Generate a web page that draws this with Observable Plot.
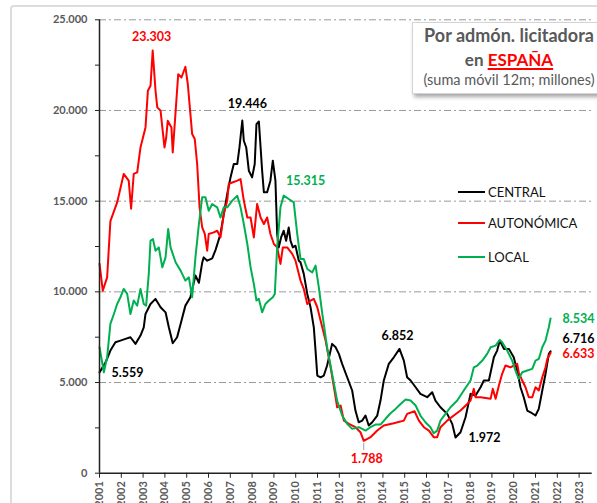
<!DOCTYPE html>
<html><head><meta charset="utf-8">
<script src="https://cdn.jsdelivr.net/npm/d3@7"></script>
<script src="https://cdn.jsdelivr.net/npm/@observablehq/plot@0.6"></script>
<style>
body{margin:0;background:#fff;font-family:Lato,"Open Sans",sans-serif;}
#wrap{position:relative;width:597px;height:503px;overflow:hidden;background:#fff;}
#wrap svg{position:absolute;left:0;top:0;}
#frame{position:absolute;left:10px;top:5px;width:700px;height:700px;border:2px solid #dcdcdc;border-radius:4px;pointer-events:none;}
#tbox{position:absolute;left:412px;top:22px;width:230px;height:70px;background:#fff;border:1px solid #d4d4d4;box-shadow:2px 3px 4px rgba(0,0,0,0.35);}
.tl{position:absolute;left:412px;width:194px;text-align:center;color:#595959;white-space:nowrap;}
.t1{font-size:18px;line-height:21.6px;font-weight:bold;}
.t2{font-size:17px;line-height:20.4px;font-weight:bold;}
.t3{font-size:14.5px;line-height:17.4px;}
.esp{color:#ff0000;text-decoration:underline;text-decoration-thickness:2px;text-underline-offset:2px;}
.lg{position:absolute;left:458px;height:20px;display:flex;align-items:center;font-size:13px;color:#111;}
.lg span.sw{display:inline-block;width:27px;height:2px;margin-right:3px;}
</style></head><body><div id="wrap"></div><script>
// ---- data (millones, suma móvil 12m) ----
const seriesNames = ["CENTRAL", "AUTONÓMICA", "LOCAL"];
const central = [[2001.00,5559],[2001.28,6115],[2001.50,6760],[2001.73,7220],[2001.96,7310],[2002.19,7405],[2002.42,7495],[2002.65,7130],[2002.88,7590],[2003.03,8045],[2003.11,8780],[2003.34,9330],[2003.57,9610],[2003.80,9150],[2004.03,8870],[2004.18,8045],[2004.36,7165],[2004.56,7495],[2004.72,8230],[2004.94,9240],[2005.17,9700],[2005.40,10900],[2005.56,10500],[2005.71,11600],[2005.78,11900],[2005.94,11720],[2006.17,11850],[2006.32,12300],[2006.55,13190],[2006.70,14290],[2006.86,15395],[2007.01,16310],[2007.16,17050],[2007.32,17050],[2007.42,17960],[2007.55,19446],[2007.62,18330],[2007.73,17960],[2007.85,16680],[2008.00,16310],[2008.12,17050],[2008.20,19250],[2008.31,19395],[2008.39,17960],[2008.46,16680],[2008.54,15490],[2008.69,15490],[2008.84,16130],[2008.95,17230],[2009.07,16130],[2009.15,13190],[2009.22,12450],[2009.33,13000],[2009.45,13370],[2009.56,12820],[2009.68,13550],[2009.76,12820],[2009.87,12450],[2009.99,12545],[2010.14,11720],[2010.22,11630],[2010.37,10990],[2010.53,9885],[2010.68,9150],[2010.83,8045],[2010.91,6760],[2010.99,5385],[2011.14,5290],[2011.29,5385],[2011.44,5935],[2011.67,7130],[2011.83,6945],[2011.98,6580],[2012.13,6030],[2012.36,5290],[2012.59,4560],[2012.74,3455],[2012.89,2810],[2013.05,2900],[2013.20,3180],[2013.35,2630],[2013.51,2810],[2013.74,3180],[2013.89,4005],[2014.04,5110],[2014.27,6030],[2014.50,6390],[2014.76,6852],[2014.96,6210],[2015.11,5290],[2015.27,5110],[2015.50,4740],[2015.72,4375],[2016.03,4190],[2016.26,4465],[2016.41,4005],[2016.64,3637],[2016.95,3270],[2017.18,2720],[2017.33,1972],[2017.56,2260],[2017.79,3085],[2018.02,4375],[2018.25,4280],[2018.48,4740],[2018.63,5110],[2018.86,5110],[2019.09,6390],[2019.24,6760],[2019.36,7310],[2019.55,6855],[2019.78,6855],[2020.00,6390],[2020.16,5660],[2020.31,4740],[2020.46,4190],[2020.62,3455],[2020.77,3360],[2021.00,3180],[2021.15,3545],[2021.31,4560],[2021.46,5480],[2021.61,6580],[2021.69,6716]];
const autonomica = [[2001.00,11550],[2001.15,10066],[2001.35,10800],[2001.50,13900],[2001.81,14930],[2002.11,16500],[2002.34,16130],[2002.45,14580],[2002.57,16500],[2002.73,16590],[2002.88,17960],[2003.11,19065],[2003.22,21087],[2003.34,21360],[2003.44,23303],[2003.57,21087],[2003.65,20170],[2003.80,19990],[2003.98,17960],[2004.06,18510],[2004.13,19430],[2004.30,19060],[2004.36,17690],[2004.61,22000],[2004.76,21820],[2004.94,22410],[2005.05,21460],[2005.25,18700],[2005.37,18425],[2005.48,17050],[2005.59,14660],[2005.71,13550],[2005.83,13190],[2005.94,12270],[2006.01,13190],[2006.24,13280],[2006.40,13370],[2006.55,13000],[2006.70,14290],[2006.86,15030],[2006.93,15950],[2007.09,16030],[2007.32,16130],[2007.47,16220],[2007.62,15030],[2007.78,14100],[2007.93,14100],[2008.08,13000],[2008.23,14840],[2008.39,14100],[2008.54,13740],[2008.69,14100],[2008.84,13190],[2009.00,12640],[2009.15,12450],[2009.30,11540],[2009.41,12450],[2009.61,12450],[2009.84,12090],[2009.99,11720],[2010.22,10620],[2010.37,10160],[2010.53,9330],[2010.68,9520],[2010.83,9610],[2010.99,9150],[2011.14,8415],[2011.37,7310],[2011.60,5840],[2011.83,4190],[2011.90,3637],[2012.06,3730],[2012.21,2900],[2012.44,2720],[2012.74,2535],[2012.97,2260],[2013.12,1788],[2013.43,1985],[2013.74,2350],[2014.04,2630],[2014.50,2755],[2014.96,2900],[2015.11,3270],[2015.45,3415],[2015.65,2900],[2015.88,2535],[2016.11,2350],[2016.33,1985],[2016.49,1985],[2016.64,2535],[2016.95,2900],[2017.25,3180],[2017.56,3455],[2017.87,3820],[2018.02,4005],[2018.17,4650],[2018.25,4190],[2018.48,4190],[2018.94,4100],[2019.04,4650],[2019.17,4100],[2019.32,4830],[2019.47,5480],[2019.62,5935],[2019.85,5840],[2020.00,5935],[2020.16,6030],[2020.23,5565],[2020.39,5110],[2020.54,4740],[2020.69,4190],[2020.85,4190],[2021.00,4740],[2021.15,4560],[2021.31,5290],[2021.46,5840],[2021.54,6300],[2021.69,6633]];
const local = [[2001.00,6945],[2001.20,5565],[2001.35,6390],[2001.50,8230],[2001.66,8780],[2001.81,9330],[2001.96,9700],[2002.11,10160],[2002.27,9885],[2002.42,8780],[2002.57,9520],[2002.73,9240],[2002.88,10160],[2003.03,9330],[2003.14,9240],[2003.26,10990],[2003.34,12820],[2003.45,12915],[2003.57,12270],[2003.72,12450],[2003.88,11350],[2004.03,11900],[2004.15,13465],[2004.26,12450],[2004.49,11630],[2004.72,11170],[2004.94,10620],[2005.10,10800],[2005.25,9700],[2005.40,11900],[2005.56,13740],[2005.71,15210],[2005.86,15210],[2006.01,14475],[2006.17,14840],[2006.40,14660],[2006.55,14100],[2006.70,14660],[2006.86,14660],[2007.09,15030],[2007.32,15300],[2007.47,14660],[2007.62,13740],[2007.78,12640],[2007.93,11350],[2008.08,10435],[2008.20,9520],[2008.31,9610],[2008.46,8870],[2008.61,9330],[2008.77,9520],[2008.95,9700],[2009.04,9885],[2009.15,12450],[2009.30,14660],[2009.45,15315],[2009.68,15120],[2009.91,14930],[2010.07,13190],[2010.22,11810],[2010.37,11810],[2010.53,11260],[2010.76,11075],[2010.91,11445],[2011.06,10250],[2011.22,8780],[2011.44,6945],[2011.67,5480],[2011.90,4005],[2012.13,3180],[2012.36,2720],[2012.59,2445],[2012.89,2535],[2013.20,2350],[2013.43,2535],[2013.66,2680],[2013.89,2680],[2014.12,3000],[2014.35,3305],[2014.58,3545],[2014.81,3820],[2015.04,4060],[2015.27,4005],[2015.50,3730],[2015.72,3180],[2015.95,2810],[2016.18,2535],[2016.33,2205],[2016.49,2350],[2016.64,2900],[2016.87,3270],[2017.10,3637],[2017.41,4005],[2017.71,4560],[2018.02,5110],[2018.17,5840],[2018.33,5935],[2018.56,6210],[2018.78,6580],[2018.94,6945],[2019.17,7035],[2019.36,7350],[2019.47,7220],[2019.70,6760],[2019.93,6210],[2020.08,5660],[2020.23,5200],[2020.39,5565],[2020.62,5660],[2020.85,5750],[2021.00,6210],[2021.15,6300],[2021.31,6945],[2021.46,7310],[2021.61,8045],[2021.69,8534]];
const yearTicks = d3.range(2001, 2024);
const yMajorTicks = [0, 5000, 10000, 15000, 20000, 25000];
const yMinorTicks = [2500, 7500, 12500, 17500, 22500];
const annText = ["23.303", "19.446", "15.315", "5.559", "6.852", "1.788", "1.972", "8.534", "6.716", "6.633"];
const annYear = [2003.44, 2007.55, 2009.45, 2001.00, 2014.76, 2013.12, 2017.33, 2021.69, 2021.69, 2021.69];
const annValue = [23303, 19446, 15315, 5559, 6852, 1788, 1972, 8534, 6716, 6633];
const annSeries = ["AUTONÓMICA", "CENTRAL", "LOCAL", "CENTRAL", "CENTRAL", "AUTONÓMICA", "CENTRAL", "LOCAL", "CENTRAL", "AUTONÓMICA"];

// ---- styles ----
const colors = {"CENTRAL": "#000000", "AUTONÓMICA": "#ff0000", "LOCAL": "#00b050"};
const annOffsets = [[-1,-14],[5,-17],[22,-14],[28,1],[-2,-13],[3,18],[29,1],[28,1],[28,-12],[28,1.5]];
const fmt = d3.formatLocale({decimal: ",", thousands: ".", grouping: [3], currency: ["", ""]}).format(",d");

const toRows = arr => arr.map(([year, value]) => ({year, value}));
const seriesData = {"CENTRAL": toRows(central), "AUTONÓMICA": toRows(autonomica), "LOCAL": toRows(local)};
const ann = annText.map((t, i) => ({text: t, year: annYear[i], value: annValue[i], series: annSeries[i]}));

const annMarks = ann.map((a, i) => Plot.text([a], {
  x: "year", y: "value", text: "text", fill: colors[a.series],
  dx: annOffsets[i][0], dy: annOffsets[i][1], fontSize: 12.5, fontWeight: "bold",
  textAnchor: "middle", lineAnchor: "middle"
}));
const minRed = ann[5];

const chart = Plot.plot({
  width: 597, height: 503,
  marginLeft: 99, marginRight: 5.3, marginTop: 19.3, marginBottom: 30.3,
  style: {fontFamily: "Lato, 'Open Sans', sans-serif", background: "transparent", overflow: "visible"},
  x: {domain: [2001, 2023.6]},
  y: {domain: [0, 25000]},
  marks: [
    Plot.ruleY(yMajorTicks.filter(d => d > 0), {stroke: "#9a9a9a", strokeWidth: 1, strokeDasharray: "7,3,2,3"}),
    Plot.ruleX([minRed], {x: "year", y1: 1650, y2: 1250, stroke: "#a0a0a0", strokeWidth: 1}),
    ...seriesNames.map(s => Plot.line(seriesData[s], {x: "year", y: "value", stroke: colors[s], strokeWidth: 2})),
    Plot.ruleY([0], {stroke: "#222", strokeWidth: 1.5}),
    Plot.ruleX([2001], {y1: 0, y2: 25000, stroke: "#222", strokeWidth: 1.5}),
    Plot.axisY({ticks: yMajorTicks, tickFormat: fmt, tickSize: 4, tickPadding: 8, fontSize: 11, fontWeight: "bold", fill: "#595959", stroke: "#222", label: null}),
    Plot.axisY({ticks: yMinorTicks, tickFormat: () => "", tickSize: 4, stroke: "#222", label: null}),
    Plot.axisX({ticks: yearTicks, tickFormat: d => String(d), tickRotate: -90, tickSize: 5, tickPadding: 3, fontSize: 11, fontWeight: "bold", fill: "#595959", stroke: "#222", label: null}),
    ...annMarks
  ]
});

const wrap = document.getElementById("wrap");
wrap.appendChild(chart);

// title box
const tbox = document.createElement("div"); tbox.id = "tbox"; wrap.appendChild(tbox);
const l1 = document.createElement("div"); l1.className = "tl t1"; l1.style.top = "25.2px"; l1.textContent = "Por admón. licitadora"; wrap.appendChild(l1);
const l2 = document.createElement("div"); l2.className = "tl t2"; l2.style.top = "50.2px"; l2.innerHTML = 'en <span class="esp">ESPAÑA</span>'; wrap.appendChild(l2);
const l3 = document.createElement("div"); l3.className = "tl t3"; l3.style.top = "70.7px"; l3.textContent = "(suma móvil 12m; millones)"; wrap.appendChild(l3);

// legend
const legendY = [191.7, 223.3, 256.7];
seriesNames.forEach((s, i) => {
  const row = document.createElement("div"); row.className = "lg"; row.style.top = (legendY[i] - 10) + "px";
  const sw = document.createElement("span"); sw.className = "sw"; sw.style.background = colors[s];
  const tx = document.createElement("span"); tx.textContent = s;
  row.appendChild(sw); row.appendChild(tx); wrap.appendChild(row);
});

const fr = document.createElement("div"); fr.id = "frame"; wrap.appendChild(fr);
</script></body></html>
